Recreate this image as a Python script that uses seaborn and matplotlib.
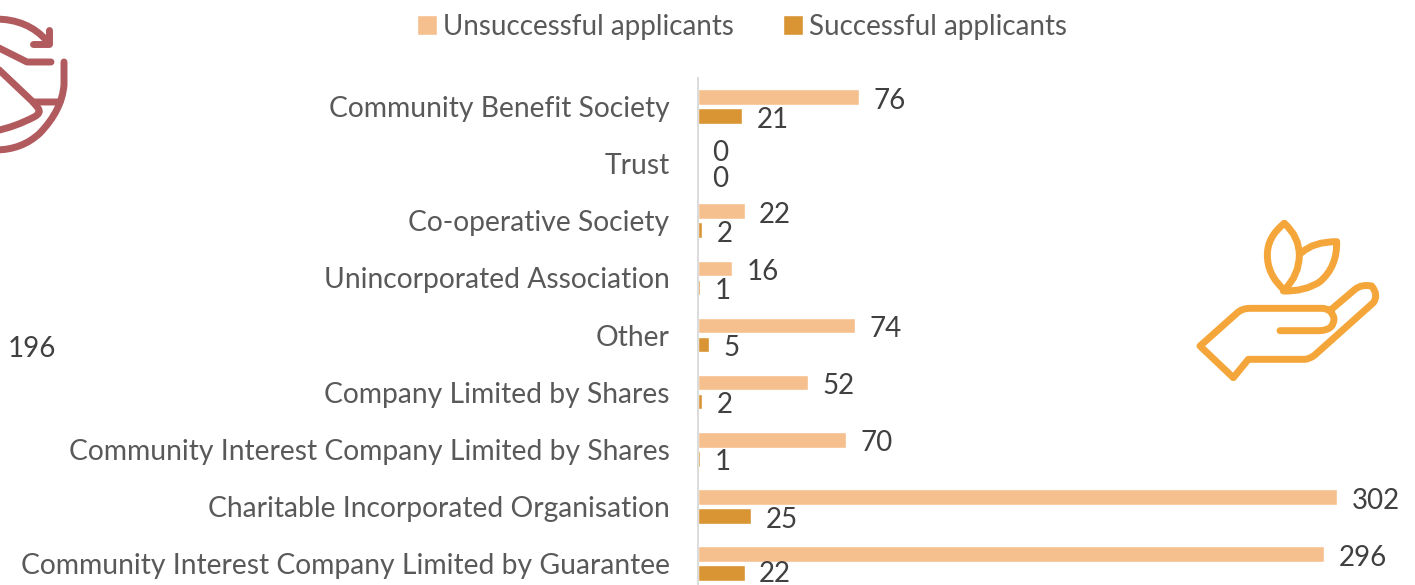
import pandas as pd
import seaborn as sns
import matplotlib.pyplot as plt
from matplotlib.path import Path
from matplotlib.patches import PathPatch

categories = ['Community Benefit Society', 'Trust', 'Co-operative Society',
              'Unincorporated Association', 'Other', 'Company Limited by Shares',
              'Community Interest Company Limited by Shares',
              'Charitable Incorporated Organisation',
              'Community Interest Company Limited by Guarantee']
unsuccessful = [76, 0, 22, 16, 74, 52, 70, 302, 296]
successful = [21, 0, 2, 1, 5, 2, 1, 25, 22]
series_names = ['Unsuccessful applicants', 'Successful applicants']
stray_label = '196'

W, H = 1415, 585

sns.set_theme(style='white')
plt.rcParams['font.family'] = ['Lato', 'DejaVu Sans']

df = pd.DataFrame({'category': categories,
                   series_names[0]: unsuccessful,
                   series_names[1]: successful})
df = df.melt(id_vars='category', var_name='series', value_name='count')

fig = plt.figure(figsize=(W / 100, H / 100), dpi=100)
# axes runs a little past the bottom of the figure, the chart is cropped there
ax = fig.add_axes([698 / W, 1 - 592 / H, 640 / W, (592 - 78) / H])

sns.barplot(data=df, y='category', x='count', hue='series', order=categories,
            hue_order=series_names, palette=['#F6BF8E', '#D99433'],
            width=0.665, gap=0.17, saturation=1, ax=ax)

ax.set_xlim(0, 640 / 2.116)
ax.set_xlabel('')
ax.set_ylabel('')
ax.xaxis.set_visible(False)
sns.despine(ax=ax, left=False, bottom=True)
ax.spines['left'].set_color('#D9D9D9')
ax.spines['left'].set_linewidth(1.3)
ax.tick_params(axis='y', length=0, pad=20.5, labelsize=20.3, labelcolor='#595959')

for i, cont in enumerate(ax.containers):
    labels = ax.bar_label(cont, padding=10.5, fontsize=20, color='#404040')
    for j, (ann, val) in enumerate(zip(labels, cont.datavalues)):
        x, y = ann.xyann
        # zero labels sit apart from each other, the rest just drop a bit
        if val == 0:
            ann.xyann = (x, y + 1 if i == 0 else y - 4)
        elif i == 1 and j == len(categories) - 1:
            ann.xyann = (x, y - 1)  # keeps the last label inside the figure
        else:
            ann.xyann = (x, y - 2.7)

sns.move_legend(ax, 'center', bbox_to_anchor=(742 / W, 1 - 27 / H),
                bbox_transform=fig.transFigure, ncol=2, title=None, frameon=False,
                fontsize=20, labelcolor='#595959', handlelength=0.72, handleheight=0.72,
                handletextpad=0.2, columnspacing=1.8)

fig.text(8 / W, 1 - 349 / H, stray_label, fontsize=20, color='#404040', va='center')

# overlay in pixel coordinates for the two icons
ov = fig.add_axes([0, 0, 1, 1], zorder=5)
ov.set_xlim(0, W)
ov.set_ylim(H, 0)
ov.axis('off')

M, L, C3 = Path.MOVETO, Path.LINETO, Path.CURVE3


def stroke(pts, codes, color, lw, ox=0, oy=0, scale=1):
    pts = [(ox + x * scale, oy + y * scale) for x, y in pts]
    ov.add_patch(PathPatch(Path(pts, codes), fill=False, edgecolor=color, lw=lw,
                           capstyle='round', joinstyle='round', clip_on=False))


# recycling icon, left edge
red = '#B15B5F'
lw = 5.0
stroke([(-5, 19), (28, 19), (47, 41)], [M, C3, C3], red, lw)
stroke([(49, 30), (49, 44), (33, 44)], [M, L, L], red, lw)
stroke([(-5, 46), (27, 62), (51, 62)], [M, L, L], red, lw)
stroke([(-5, 66), (33, 102), (60, 102)], [M, L, L], red, lw)
stroke([(64, 62), (64, 85), (62, 110), (40, 133), (22, 150), (-5, 150)], [M, L, C3, C3, C3, C3], red, lw)
stroke([(33, 102), (38, 108), (42, 113), (34, 117), (15, 127), (-5, 131)], [M, L, C3, C3, C3, C3], red, lw)

# hand and leaves icon, right side, points taken from a 3x crop
orange = '#F4A63A'
kw = dict(ox=1180, oy=210, scale=1 / 3)
stroke([(313, 40), (262, 80), (262, 135), (262, 195), (313, 240)], [M, C3, C3, C3, C3], orange, lw, **kw)
stroke([(313, 40), (358, 80), (358, 135), (358, 195), (313, 240)], [M, C3, C3, C3, C3], orange, lw, **kw)
stroke([(365, 128), (400, 95), (470, 95), (472, 170), (420, 215), (375, 245), (310, 243)],
       [M, C3, C3, C3, C3, C3, C3], orange, lw, **kw)
stroke([(300, 362), (420, 362), (462, 360), (462, 325), (455, 295), (425, 295), (210, 295),
        (185, 295), (170, 310), (60, 408), (160, 503), (205, 448), (375, 448), (395, 445),
        (410, 430), (580, 278), (597, 255), (575, 228), (545, 222), (525, 238), (452, 300)],
       [M, L, C3, C3, C3, C3, L, C3, C3, L, L, L, L, C3, C3, L, C3, C3, C3, C3, L], orange, lw, **kw)

fig.savefig('out.png', dpi=100)
